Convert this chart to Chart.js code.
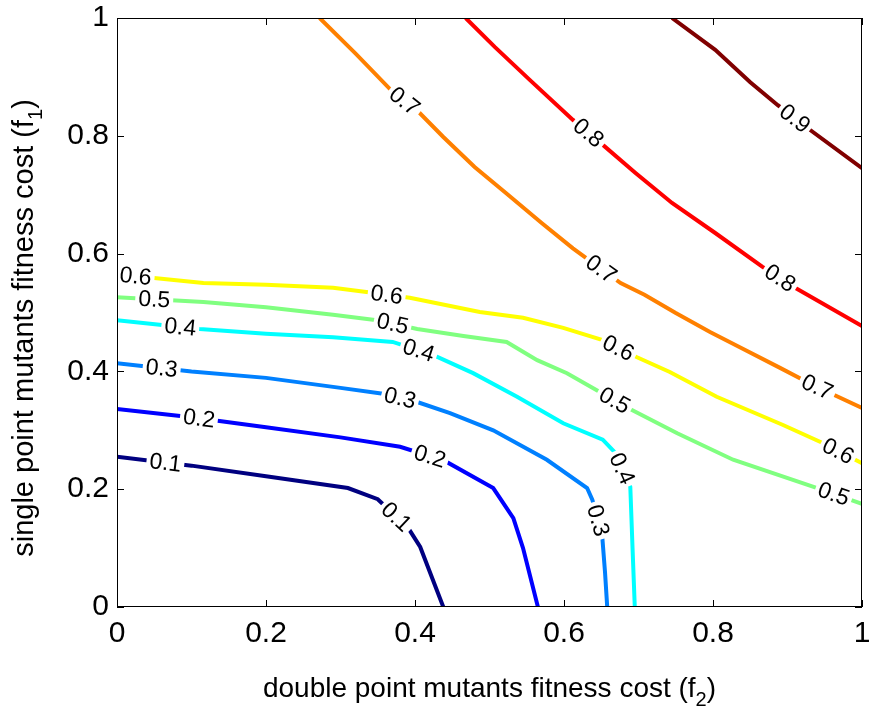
<!DOCTYPE html>
<html>
<head>
<meta charset="utf-8">
<script src="https://cdn.jsdelivr.net/npm/chart.js@4.4.0/dist/chart.umd.min.js"></script>
<style>
  html, body { margin: 0; padding: 0; background: #fff; }
</style>
</head>
<body>
<canvas id="canvas" width="869" height="709"></canvas>
<script>
// contour levels and their (jet) colours
var levels = [0.1, 0.2, 0.3, 0.4, 0.5, 0.6, 0.7, 0.8, 0.9];
var levelColors = ['#000080', '#0000ff', '#0080ff', '#00ffff', '#80ff80',
                   '#ffff00', '#ff8000', '#ff0000', '#800000'];

// contour lines, [f2, f1] pairs
var line01 = [[0, 0.255], [0.1, 0.24], [0.2, 0.222], [0.31, 0.202], [0.35, 0.183],
              [0.391, 0.134], [0.407, 0.102], [0.438, 0]];
var line02 = [[0, 0.336], [0.1, 0.322], [0.2, 0.305], [0.3, 0.288], [0.38, 0.272],
              [0.44, 0.248], [0.505, 0.202], [0.532, 0.151], [0.545, 0.1], [0.565, 0]];
var line03 = [[0, 0.414], [0.1, 0.4], [0.2, 0.389], [0.3, 0.372], [0.357, 0.362],
              [0.403, 0.348], [0.447, 0.329], [0.505, 0.3], [0.577, 0.25], [0.631, 0.202],
              [0.638, 0.182], [0.651, 0.125], [0.655, 0.06], [0.658, 0]];
var line04 = [[0, 0.487], [0.111, 0.472], [0.2, 0.464], [0.29, 0.458], [0.37, 0.45],
              [0.424, 0.428], [0.478, 0.397], [0.537, 0.357], [0.599, 0.312], [0.652, 0.284],
              [0.668, 0.263], [0.689, 0.204], [0.692, 0.1], [0.695, 0]];
var line05 = [[0, 0.526], [0.116, 0.518], [0.2, 0.509], [0.29, 0.496], [0.349, 0.487],
              [0.403, 0.472], [0.465, 0.46], [0.523, 0.45], [0.564, 0.419], [0.604, 0.397],
              [0.644, 0.368], [0.686, 0.338], [0.752, 0.295], [0.827, 0.25], [0.94, 0.202],
              [1, 0.175]];
var line06 = [[0, 0.565], [0.116, 0.55], [0.2, 0.547], [0.29, 0.542], [0.34, 0.534],
              [0.393, 0.525], [0.487, 0.501], [0.545, 0.491], [0.599, 0.474], [0.652, 0.453],
              [0.698, 0.424], [0.742, 0.399], [0.805, 0.357], [0.894, 0.309], [0.948, 0.278],
              [1, 0.244]];
var line07 = [[0.272, 1.0], [0.32, 0.94], [0.369, 0.876], [0.406, 0.839], [0.438, 0.798],
              [0.48, 0.747], [0.522, 0.703], [0.57, 0.652], [0.612, 0.609], [0.652, 0.572],
              [0.676, 0.55], [0.708, 0.53], [0.75, 0.499], [0.796, 0.467], [0.836, 0.441],
              [0.89, 0.406], [0.934, 0.377], [1, 0.338]];
var line08 = [[0.468, 1.0], [0.507, 0.951], [0.554, 0.895], [0.612, 0.827], [0.649, 0.788],
              [0.696, 0.737], [0.745, 0.686], [0.803, 0.635], [0.866, 0.578], [0.909, 0.543],
              [1, 0.477]];
var line09 = [[0.745, 1.0], [0.803, 0.946], [0.85, 0.891], [0.887, 0.852], [0.925, 0.815],
              [1, 0.745]];
var contourLines = [line01, line02, line03, line04, line05, line06, line07, line08, line09];

// where the inline level labels sit (f2 value along each line)
var labelAt = [[0.065, 0.375], [0.11, 0.42], [0.06, 0.38, 0.646], [0.085, 0.405, 0.678],
               [0.05, 0.37, 0.668, 0.962], [0.025, 0.362, 0.673, 0.968],
               [0.386, 0.65, 0.94], [0.633, 0.89], [0.91]];

var xTicks = [0, 0.2, 0.4, 0.6, 0.8, 1];
var yTicks = [0, 0.2, 0.4, 0.6, 0.8, 1];

var FONT = '"Liberation Sans", Arial, Helvetica, sans-serif';

var datasets = contourLines.map(function (pts, i) {
  return {
    label: String(levels[i]),
    data: pts.map(function (p) { return { x: p[0], y: p[1] }; }),
    showLine: true,
    borderColor: levelColors[i],
    backgroundColor: levelColors[i],
    borderWidth: 4,
    pointRadius: 0,
    tension: 0
  };
});

// level labels, box with inward ticks, axis titles with subscripts
var contourDecor = {
  id: 'contourDecor',
  afterDatasetsDraw: function (chart) {
    var ctx = chart.ctx;
    var xs = chart.scales.x, ys = chart.scales.y;
    ctx.save();
    ctx.font = '23px ' + FONT;
    ctx.textAlign = 'center';
    ctx.textBaseline = 'middle';
    contourLines.forEach(function (pts, li) {
      labelAt[li].forEach(function (lx) {
        for (var i = 0; i < pts.length - 1; i++) {
          if (lx >= pts[i][0] && lx <= pts[i + 1][0]) break;
        }
        var a = pts[i], b = pts[i + 1];
        var t = b[0] === a[0] ? 0.5 : (lx - a[0]) / (b[0] - a[0]);
        var x1 = xs.getPixelForValue(a[0]), y1 = ys.getPixelForValue(a[1]);
        var x2 = xs.getPixelForValue(b[0]), y2 = ys.getPixelForValue(b[1]);
        var px = x1 + (x2 - x1) * t, py = y1 + (y2 - y1) * t;
        var ang = Math.atan2(y2 - y1, x2 - x1);
        var txt = String(levels[li]);
        var w = ctx.measureText(txt).width;
        ctx.save();
        ctx.translate(px, py);
        ctx.rotate(ang);
        ctx.fillStyle = '#fff';
        ctx.fillRect(-w / 2 - 3, -7, w + 6, 14);
        ctx.fillStyle = '#000';
        ctx.fillText(txt, 0, 1);
        ctx.restore();
      });
    });
    ctx.restore();
  },
  afterDraw: function (chart) {
    var ctx = chart.ctx, a = chart.chartArea;
    var xs = chart.scales.x, ys = chart.scales.y;
    var tl = 7;
    ctx.save();
    ctx.strokeStyle = '#000';
    ctx.lineWidth = 1;
    ctx.strokeRect(a.left + 0.5, a.top + 0.5, a.right - a.left - 1, a.bottom - a.top - 1);
    ctx.beginPath();
    xTicks.forEach(function (v) {
      var x = Math.round(xs.getPixelForValue(v)) + 0.5;
      ctx.moveTo(x, a.bottom); ctx.lineTo(x, a.bottom - tl);
      ctx.moveTo(x, a.top); ctx.lineTo(x, a.top + tl);
    });
    yTicks.forEach(function (v) {
      var y = Math.round(ys.getPixelForValue(v)) + 0.5;
      ctx.moveTo(a.left, y); ctx.lineTo(a.left + tl, y);
      ctx.moveTo(a.right, y); ctx.lineTo(a.right - tl, y);
    });
    ctx.stroke();

    // axis titles
    function title(main, sub, cx, cy, rot, size) {
      ctx.save();
      ctx.translate(cx, cy);
      ctx.rotate(rot);
      ctx.fillStyle = '#000';
      ctx.textBaseline = 'alphabetic';
      ctx.textAlign = 'left';
      var big = size + 'px ' + FONT, small = Math.round(size * 0.7) + 'px ' + FONT;
      ctx.font = big;
      var w1 = ctx.measureText(main).width;
      var w3 = ctx.measureText(')').width;
      ctx.font = small;
      var w2 = ctx.measureText(sub).width;
      var x0 = -(w1 + w2 + w3) / 2;
      ctx.font = big;
      ctx.fillText(main, x0, 0);
      ctx.font = small;
      ctx.fillText(sub, x0 + w1, 9);
      ctx.font = big;
      ctx.fillText(')', x0 + w1 + w2, 0);
      ctx.restore();
    }
    title('double point mutants fitness cost (f', '2', (a.left + a.right) / 2, 697, 0, 28);
    title('single point mutants fitness cost (f', '1', 33, 328, -Math.PI / 2, 29);
    ctx.restore();
  }
};

new Chart(document.getElementById('canvas').getContext('2d'), {
  type: 'scatter',
  data: { datasets: datasets },
  options: {
    responsive: false,
    animation: false,
    layout: { padding: { top: 18, right: 7, left: 0, bottom: 0 } },
    plugins: { legend: { display: false }, tooltip: { enabled: false } },
    scales: {
      x: {
        type: 'linear', min: 0, max: 1,
        afterBuildTicks: function (s) { s.ticks = xTicks.map(function (v) { return { value: v }; }); },
        afterFit: function (s) { s.height = 102; s.paddingLeft = 0; s.paddingRight = 0; },
        ticks: { color: '#000', font: { family: FONT, size: 30 }, padding: 9, maxRotation: 0,
                 autoSkip: false, callback: function (v) { return String(v); } },
        grid: { display: false, drawTicks: false },
        border: { display: false }
      },
      y: {
        type: 'linear', min: 0, max: 1,
        afterBuildTicks: function (s) { s.ticks = yTicks.map(function (v) { return { value: v }; }); },
        afterFit: function (s) { s.width = 117; s.paddingTop = 0; s.paddingBottom = 0; },
        ticks: { color: '#000', font: { family: FONT, size: 30 }, padding: 8,
                 autoSkip: false, callback: function (v) { return String(v); } },
        grid: { display: false, drawTicks: false },
        border: { display: false }
      }
    }
  },
  plugins: [contourDecor]
});
</script>
</body>
</html>
